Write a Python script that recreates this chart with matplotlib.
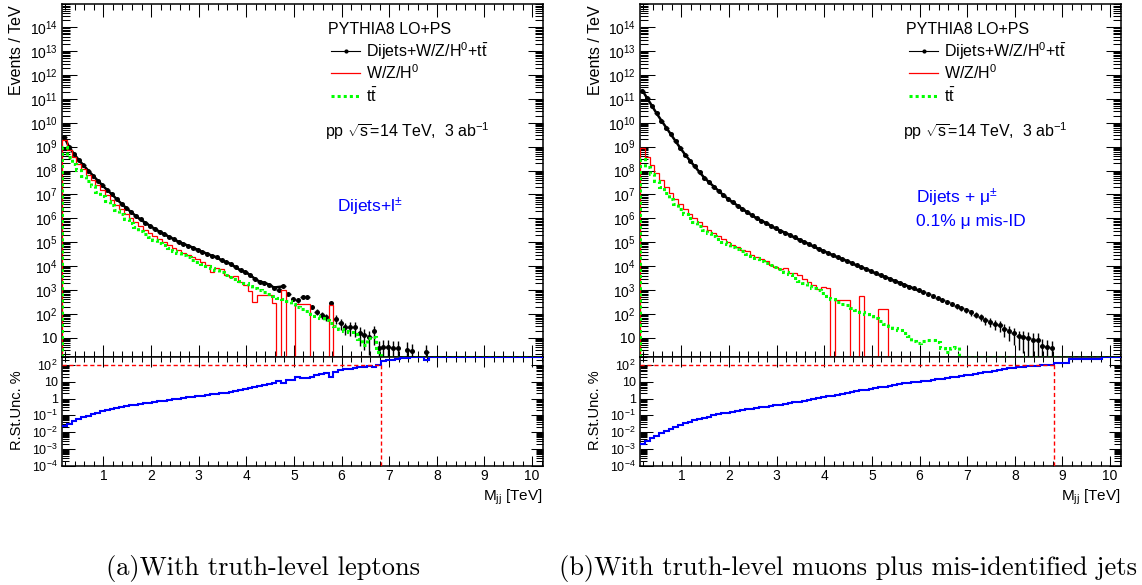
import numpy as np
import matplotlib
matplotlib.use("Agg")
import matplotlib.pyplot as plt
from matplotlib.lines import Line2D
from matplotlib.ticker import LogLocator, FuncFormatter, MultipleLocator, NullFormatter

plt.rcParams["font.family"] = ["Liberation Sans", "DejaVu Sans"]
plt.rcParams["mathtext.fontset"] = "custom"
plt.rcParams["mathtext.rm"] = "Liberation Sans"
plt.rcParams["mathtext.it"] = "Liberation Sans:italic"
plt.rcParams["mathtext.bf"] = "Liberation Sans:bold"
plt.rcParams["axes.linewidth"] = 1.1

# ---------- binning (M_jj, TeV) ----------
BIN_LO = 0.13
BIN_W = 0.1
N_BINS = 101
X_MIN, X_MAX = 0.13, 10.23
Y_TOP = (1.6, 9.4e14)
Y_RAT = (1e-4, 300)

# ---------- (a) truth-level leptons : log10(Events/TeV), None = empty bin ----------
L_TOTAL = [
    9.40, 8.98, 8.70, 8.45, 8.22, 8.00, 7.79, 7.58, 7.38, 7.18,
    7.00, 6.80, 6.61, 6.43, 6.26, 6.10, 5.95, 5.81, 5.68, 5.56,
    5.44, 5.33, 5.22, 5.12, 5.02, 4.93, 4.85, 4.77, 4.68, 4.59,
    4.51, 4.43, 4.37, 4.24, 4.16, 4.08, 3.95, 3.82, 3.75, 3.62,
    3.47, 3.35, 3.30, 3.22, 3.10, 2.99, 3.15, 2.85, 2.62, 2.57,
    2.72, 2.70, 2.30, 2.08, 1.95, 1.87, 2.46, 1.80, 1.60, 1.45,
    1.45, 1.45, 1.20, 1.10, 1.03, 1.27, 0.55, 0.62, 0.60, 0.55,
    0.58, None, 0.50, 0.45, None, None, 0.40, None, None, None,
    None, None, None, None, None, None, None, None, None, None,
    None, None, None, None, None, None, None, None, None, None, None,
]
L_WZH = [
    9.27, 8.84, 8.55, 8.29, 8.05, 7.82, 7.60, 7.38, 7.17, 6.96,
    6.78, 6.57, 6.37, 6.18, 6.00, 5.83, 5.67, 5.52, 5.38, 5.25,
    5.12, 5.00, 4.89, 4.76, 4.68, 4.55, 4.48, 4.37, 4.29, 4.18,
    4.05, 3.76, 3.90, 3.86, 3.62, 3.54, 3.58, 3.35, 3.20, 2.95,
    2.50, 2.78, 2.78, 2.78, 2.44, None, 3.00, None, None, 2.40,
    2.40, 2.40, None, None, None, None, 2.36, None, None, None,
    None, None, None, None, None, None, None, None, None, None,
    None, None, None, None, None, None, None, None, None, None,
    None, None, None, None, None, None, None, None, None, None,
    None, None, None, None, None, None, None, None, None, None, None,
]
L_TT = [
    8.98, 8.57, 8.29, 8.03, 7.79, 7.56, 7.34, 7.12, 6.92, 6.72,
    6.56, 6.36, 6.16, 5.97, 5.80, 5.64, 5.48, 5.34, 5.21, 5.08,
    4.98, 4.87, 4.76, 4.65, 4.55, 4.45, 4.36, 4.27, 4.18, 4.09,
    4.00, 3.91, 3.82, 3.73, 3.64, 3.55, 3.46, 3.37, 3.28, 3.18,
    3.09, 3.00, 2.92, 2.84, 2.76, 2.68, 2.60, 2.52, 2.42, 2.30,
    2.20, 2.10, 2.00, 1.90, 1.82, 1.72, 1.60, 1.50, 1.38, 1.26,
    1.22, 1.17, 0.95, 0.69, 1.00, 1.03, 0.40, None, None, None,
    None, None, None, None, None, None, None, None, None, None,
    None, None, None, None, None, None, None, None, None, None,
    None, None, None, None, None, None, None, None, None, None, None,
]
# log10 of relative stat. uncertainty in %
L_UNC = [
    -1.65, -1.50, -1.36, -1.24, -1.12, -1.02, -0.93, -0.85, -0.77, -0.70,
    -0.63, -0.57, -0.51, -0.46, -0.41, -0.37, -0.33, -0.29, -0.25, -0.21,
    -0.17, -0.13, -0.09, -0.05, -0.01, 0.03, 0.07, 0.10, 0.14, 0.17,
    0.21, 0.25, 0.28, 0.32, 0.35, 0.40, 0.45, 0.50, 0.56, 0.62,
    0.67, 0.72, 0.78, 0.86, 0.93, 1.02, 0.92, 1.08, 1.12, 1.30,
    1.20, 1.21, 1.30, 1.42, 1.48, 1.52, 1.27, 1.60, 1.68, 1.72,
    1.75, 1.78, 1.85, 1.88, 1.92, 1.86, 1.98, 2.24, 2.26, 2.30,
    2.32, 2.40, 2.42, 2.44, 2.45, 2.45, 2.30, 2.45, 2.45, 2.45,
    2.45, 2.45, 2.45, 2.45, 2.45, 2.45, 2.45, 2.45, 2.45, 2.45,
    2.45, 2.45, 2.45, 2.45, 2.45, 2.45, 2.45, 2.45, 2.45, 2.45, 2.45,
]

# ---------- (b) truth-level muons + mis-ID jets ----------
R_TOTAL = [
    11.35, 11.03, 10.71, 10.39, 10.09, 9.80, 9.51, 9.22, 8.93, 8.66,
    8.41, 8.17, 7.93, 7.70, 7.51, 7.33, 7.15, 6.97, 6.81, 6.67,
    6.53, 6.39, 6.25, 6.12, 6.01, 5.90, 5.79, 5.68, 5.58, 5.48,
    5.39, 5.29, 5.20, 5.10, 5.01, 4.91, 4.82, 4.72, 4.63, 4.54,
    4.46, 4.37, 4.29, 4.20, 4.12, 4.03, 3.95, 3.87, 3.78, 3.70,
    3.62, 3.54, 3.46, 3.38, 3.30, 3.22, 3.14, 3.06, 2.98, 2.90,
    2.82, 2.74, 2.66, 2.57, 2.49, 2.40, 2.31, 2.23, 2.14, 2.06,
    1.97, 1.88, 1.73, 1.66, 1.58, 1.52, 1.38, 1.28, 1.18, 1.06,
    1.02, 0.97, 0.92, 0.90, 0.64, 0.62, 0.55, None, None, None,
    None, None, None, None, None, None, None, None, None, None, None,
]
R_WZH = [
    8.95, 8.57, 8.22, 7.90, 7.60, 7.32, 7.06, 6.82, 6.59, 6.38,
    6.18, 6.00, 5.83, 5.67, 5.52, 5.38, 5.25, 5.12, 5.00, 4.89,
    4.78, 4.67, 4.62, 4.47, 4.36, 4.30, 4.22, 4.05, 3.97, 3.89,
    3.92, 3.72, 3.70, 3.64, 3.45, 3.35, 3.22, 3.02, 3.12, 3.10,
    None, 2.57, 2.57, 2.57, None, None, 2.74, None, None, None,
    2.22, 2.22, None, None, None, None, None, None, None, None,
    None, None, None, None, None, None, None, None, None, None,
    None, None, None, None, None, None, None, None, None, None,
    None, None, None, None, None, None, None, None, None, None,
    None, None, None, None, None, None, None, None, None, None, None,
]
R_TT = [
    8.50, 8.16, 7.85, 7.57, 7.30, 7.05, 6.82, 6.60, 6.39, 6.20,
    6.01, 5.84, 5.68, 5.53, 5.39, 5.26, 5.14, 5.02, 4.91, 4.81,
    4.72, 4.62, 4.52, 4.42, 4.32, 4.22, 4.13, 4.04, 3.95, 3.86,
    3.77, 3.67, 3.50, 3.38, 3.28, 3.18, 3.08, 2.98, 2.86, 2.74,
    2.60, 2.48, 2.42, 2.36, 2.26, 2.16, 2.08, 2.00, 1.92, 1.82,
    1.68, 1.58, 1.48, 1.40, 1.31, 1.20, 1.05, 0.85, 0.76, 0.85,
    0.90, 0.92, 0.80, 0.55, 0.41, 0.55, 0.62, None, None, None,
    None, None, None, None, None, None, None, None, None, None,
    None, None, None, None, None, None, None, None, None, None,
    None, None, None, None, None, None, None, None, None, None, None,
]
R_UNC = [
    -2.70, -2.52, -2.36, -2.21, -2.07, -1.94, -1.81, -1.69, -1.57, -1.47,
    -1.38, -1.29, -1.21, -1.14, -1.07, -1.00, -0.94, -0.88, -0.83, -0.78,
    -0.73, -0.68, -0.64, -0.60, -0.56, -0.52, -0.48, -0.44, -0.40, -0.36,
    -0.32, -0.28, -0.23, -0.18, -0.13, -0.08, -0.03, 0.02, 0.07, 0.12,
    0.17, 0.22, 0.27, 0.32, 0.37, 0.42, 0.48, 0.53, 0.58, 0.62,
    0.67, 0.71, 0.76, 0.80, 0.85, 0.89, 0.92, 0.96, 0.99, 1.03,
    1.06, 1.10, 1.13, 1.17, 1.21, 1.25, 1.29, 1.33, 1.38, 1.42,
    1.47, 1.51, 1.55, 1.60, 1.64, 1.69, 1.74, 1.78, 1.83, 1.86,
    1.89, 1.91, 1.93, 1.95, 1.97, 1.97, 1.99, 2.10, 2.12, 2.12,
    2.32, 2.32, 2.32, 2.32, 2.32, 2.32, 2.32, 2.45, 2.45, 2.45, 2.45,
]

LEG_HEADER = "PYTHIA8 LO+PS"
LEG_LABELS = [r"Dijets+W/Z/H$^{0}$+t$\bar{\mathrm{t}}$", r"W/Z/H$^{0}$", r"t$\bar{\mathrm{t}}$"]
ENERGY_TXT = r"pp $\sqrt{\mathrm{s}}$=14 TeV,  3 ab$^{-1}$"
CAPTIONS = ["(a)With truth-level leptons", "(b)With truth-level muons plus mis-identified jets"]
GREEN = "#00ff00"

edges = BIN_LO + BIN_W * np.arange(N_BINS + 1)
centers = edges[:-1] + BIN_W / 2


def arr(v):
    return np.array([np.nan if a is None else a for a in v], dtype=float)


def fmt_log(v, pos):
    e = int(round(np.log10(v)))
    if e == 0:
        return "1"
    if e == 1:
        return "10"
    return r"$10^{%d}$" % e


def style(ax, ratio):
    ax.set_yscale("log")
    ax.set_xlim(X_MIN, X_MAX)
    ax.set_ylim(*(Y_RAT if ratio else Y_TOP))
    ax.xaxis.set_major_locator(MultipleLocator(1))
    ax.xaxis.set_minor_locator(MultipleLocator(0.2))
    ax.yaxis.set_major_locator(LogLocator(10, numticks=40))
    ax.yaxis.set_minor_locator(LogLocator(10, subs=np.arange(2, 10), numticks=400))
    ax.yaxis.set_minor_formatter(NullFormatter())
    ax.yaxis.set_major_formatter(FuncFormatter(fmt_log))
    ax.tick_params(which="both", direction="in", top=True, right=True,
                   width=0.75, labelsize=10, pad=3)
    if ratio:
        ax.tick_params(axis="y", which="major", length=9, labelsize=9)
        ax.tick_params(axis="y", which="minor", length=5)
        ax.tick_params(axis="x", which="major", length=7, pad=2.5)
        ax.tick_params(axis="x", which="minor", length=3.5)
    else:
        ax.tick_params(axis="y", which="major", length=10.5)
        ax.tick_params(axis="y", which="minor", length=6)
        ax.tick_params(axis="x", which="major", length=9)
        ax.tick_params(axis="x", which="minor", length=4.5)
        ax.tick_params(axis="x", labelbottom=False)


def draw_top(ax, tot_log, wzh_log, tt_log, unc_log):
    y = 10 ** arr(tot_log)
    rel_pct = 10 ** arr(unc_log)
    rel = np.minimum(rel_pct / 100.0, 1.0)
    ok = ~np.isnan(y)
    lo_end = np.maximum(y * (1 - rel), 1e-3)
    # line through the well-measured points (legend style "lp")
    smooth = ok & (rel_pct < 10)
    ax.plot(centers[smooth], y[smooth], color="k", lw=1.8, zorder=3)
    ax.errorbar(centers[ok], y[ok], xerr=BIN_W / 2,
                yerr=[(y - lo_end)[ok], (y * rel)[ok]],
                fmt="o", ms=3.6, mew=0, color="k", ecolor="k",
                elinewidth=1.0, capsize=0, zorder=3)
    for vals, col, ls, lw in ((wzh_log, "red", "-", 0.9),
                              (tt_log, GREEN, (0, (1, 1)), 2.2)):
        h = 10 ** arr(vals)
        h = np.where(np.isnan(h), Y_TOP[0], h)
        ax.stairs(h, edges, baseline=Y_TOP[0], color=col, linestyle=ls,
                  linewidth=lw, zorder=4)
    style(ax, False)


def draw_ratio(ax, unc_log):
    u = 10 ** arr(unc_log)
    ax.stairs(u, edges, baseline=None, color="blue", linewidth=1.5, zorder=3)
    k = int(np.argmax(u >= 100))
    xc = edges[k]
    ax.plot([X_MIN, xc], [100, 100], color="red", ls=(0, (3, 2)), lw=1.0, zorder=4)
    ax.plot([xc, xc], [Y_RAT[0], 100], color="red", ls=(0, (3, 2)), lw=1.0, zorder=4)
    style(ax, True)


def legend_block(ax):
    tr = ax.transAxes
    ax.text(0.553, 0.914, LEG_HEADER, transform=tr, fontsize=11.5, va="baseline")
    rows_mid = [0.866, 0.803, 0.739]
    rows_base = [0.849, 0.787, 0.723]
    styles = [("k", "-", 0.8), ("red", "-", 0.9), (GREEN, (0, (1, 1)), 2.2)]
    for (c, ls, lw), ym, yb, lab in zip(styles, rows_mid, rows_base, LEG_LABELS):
        ax.add_line(Line2D([0.560, 0.620], [ym, ym], transform=tr, color=c,
                           ls=ls, lw=lw))
        ax.text(0.632, yb, lab, transform=tr, fontsize=11.5, va="baseline")
    ax.add_line(Line2D([0.590], [rows_mid[0]], transform=tr, color="k",
                       marker="o", ms=3.0, mew=0, ls="none"))
    ax.text(0.547, 0.624, ENERGY_TXT, transform=tr, fontsize=11.5, va="baseline")


fig = plt.figure(figsize=(11.42, 5.85), dpi=100)
W, H = 1142.0, 585.0
panels = [(62, L_TOTAL, L_WZH, L_TT, L_UNC), (640, R_TOTAL, R_WZH, R_TT, R_UNC)]
axes_top = []
for x0, tot, wzh, tt, unc in panels:
    ax_t = fig.add_axes([x0 / W, 1 - 356.7 / H, 481 / W, 352.7 / H])
    ax_r = fig.add_axes([x0 / W, 1 - 466 / H, 481 / W, 109.3 / H])
    draw_top(ax_t, tot, wzh, tt, unc)
    draw_ratio(ax_r, unc)
    legend_block(ax_t)
    axes_top.append(ax_t)
    fig.text((x0 - 45) / W, 1 - 5 / H, "Events / TeV", rotation=90,
             ha="center", va="top", fontsize=11.5)
    fig.text((x0 - 45) / W, 1 - 410 / H, "R.St.Unc. %", rotation=90,
             ha="center", va="center", fontsize=10.5)
    fig.text((x0 + 481) / W, 1 - 497 / H, r"M$_{\mathrm{jj}}$ [TeV]",
             ha="right", va="center", fontsize=11)

axes_top[0].text(0.571, 0.409, r"Dijets+l$^{\pm}$", transform=axes_top[0].transAxes,
                 color="blue", fontsize=12.5, va="baseline")
axes_top[1].text(0.573, 0.436, r"Dijets + μ$^{\pm}$", transform=axes_top[1].transAxes,
                 color="blue", fontsize=12.5, va="baseline")
axes_top[1].text(0.573, 0.371, "0.1% μ mis-ID", transform=axes_top[1].transAxes,
                 color="blue", fontsize=12.5, va="baseline")

fig.text(263 / W, 1 - 568 / H, CAPTIONS[0], ha="center", va="center",
         fontsize=19, family=["cmr10", "DejaVu Serif"])
fig.text(848 / W, 1 - 568 / H, CAPTIONS[1], ha="center", va="center",
         fontsize=19, family=["cmr10", "DejaVu Serif"])

fig.savefig("out.png", dpi=100)
